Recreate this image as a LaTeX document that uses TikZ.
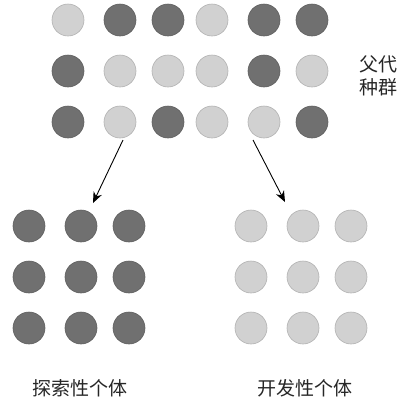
\documentclass[tikz,border=0pt]{standalone}
\usepackage{fontspec}
\newfontfamily\cjk{Noto Sans CJK SC}
\usetikzlibrary{arrows.meta}
\definecolor{darkdot}{HTML}{707070}
\definecolor{lightdot}{HTML}{D1D1D1}
\tikzset{
  dot/.style={circle, minimum size=32pt, inner sep=0pt, draw=#1!85!black, line width=0.6pt, fill=#1},
  dk/.style={dot=darkdot},
  lt/.style={dot=lightdot},
  arr/.style={-{Stealth[length=11pt,width=9pt]}, line width=0.9pt, black},
  lbl/.style={font=\cjk\fontsize{19pt}{23pt}\selectfont, text=black!85, align=center, inner sep=0pt}
}
\begin{document}
\begin{tikzpicture}[x=1pt,y=-1pt]
\useasboundingbox (0,0) rectangle (406,408);
% top population
\node[lt] (t11) at (68,20) {};
\node[dk] (t12) at (120,20) {};
\node[dk] (t13) at (168,20) {};
\node[lt] (t14) at (212,20) {};
\node[dk] (t15) at (264,20) {};
\node[dk] (t16) at (312,20) {};
\node[dk] (t21) at (68,71) {};
\node[lt] (t22) at (120,71) {};
\node[lt] (t23) at (168,71) {};
\node[lt] (t24) at (212,71) {};
\node[dk] (t25) at (264,71) {};
\node[lt] (t26) at (312,71) {};
\node[dk] (t31) at (68,122) {};
\node[lt] (t32) at (120,122) {};
\node[dk] (t33) at (168,122) {};
\node[lt] (t34) at (212,122) {};
\node[lt] (t35) at (264,122) {};
\node[dk] (t36) at (312,122) {};
% left group
\node[dk] (l11) at (29,226) {};
\node[dk] (l12) at (81,226) {};
\node[dk] (l13) at (129,226) {};
\node[dk] (l21) at (29,277) {};
\node[dk] (l22) at (81,277) {};
\node[dk] (l23) at (129,277) {};
\node[dk] (l31) at (29,328) {};
\node[dk] (l32) at (81,328) {};
\node[dk] (l33) at (129,328) {};
% right group
\node[lt] (r11) at (251,226) {};
\node[lt] (r12) at (303,226) {};
\node[lt] (r13) at (351,226) {};
\node[lt] (r21) at (251,277) {};
\node[lt] (r22) at (303,277) {};
\node[lt] (r23) at (351,277) {};
\node[lt] (r31) at (251,328) {};
\node[lt] (r32) at (303,328) {};
\node[lt] (r33) at (351,328) {};
% labels
\node[lbl] (parent) at (378,76) {父代\\种群};
\node[lbl] (explore) at (80,388) {探索性个体};
\node[lbl] (exploit) at (305,388) {开发性个体};
% arrows
\coordinate (a1s) at (123,140);
\coordinate (a1e) at (93,203);
\coordinate (a2s) at (253,140);
\coordinate (a2e) at (285,202);
\draw[arr] (a1s) -- (a1e);
\draw[arr] (a2s) -- (a2e);
\end{tikzpicture}
\end{document}
